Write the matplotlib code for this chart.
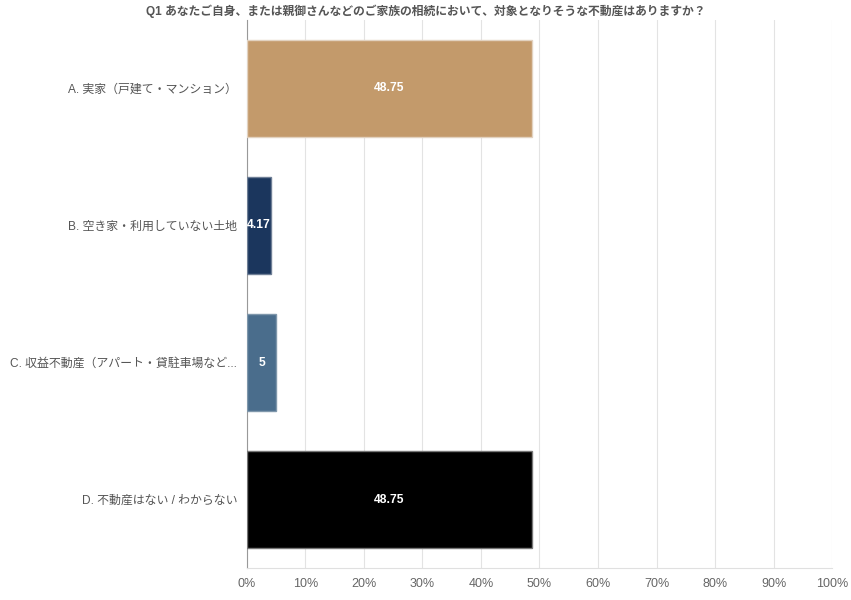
import matplotlib
matplotlib.use('Agg')
import matplotlib.pyplot as plt
import numpy as np

plt.rcParams['font.family'] = ['Liberation Sans', 'Noto Sans CJK JP', 'DejaVu Sans']

title = 'Q1 あなたご自身、または親御さんなどのご家族の相続において、対象となりそうな不動産はありますか？'
categories = ['A. 実家（戸建て・マンション）',
              'B. 空き家・利用していない土地',
              'C. 収益不動産（アパート・貸駐車場など...',
              'D. 不動産はない / わからない']
values = [48.75, 4.17, 5, 48.75]
labels = ['48.75', '4.17', '5', '48.75']
colors = ['#c39a6b', '#1b365d', '#4a6d8c', '#000000']
edges = ['#e2d2c0', '#6f7f96', '#7f97ab', '#777777']
xticks = np.arange(0, 101, 10)

fig = plt.figure(figsize=(8.51, 6.0), dpi=100)
ax = fig.add_axes([0.2902, 0.0533, 0.6875, 0.9134])

y = np.arange(len(categories))
ax.barh(y, values, height=0.715, color=colors, edgecolor=edges, linewidth=1, zorder=3)

for yi, v, lab in zip(y, values, labels):
    ax.text(v / 2, yi, lab, ha='center', va='center', color='white',
            fontsize=8.7, fontweight='bold', zorder=4)

ax.set_ylim(len(categories) - 0.5, -0.5)
ax.set_xlim(0, 100)
ax.set_yticks(y)
ax.set_yticklabels(categories, fontsize=8.6, color='#555555')
ax.set_xticks(xticks)
ax.set_xticklabels(['%d%%' % t for t in xticks], fontsize=9, color='#666666')

ax.grid(True, axis='x', color='#e3e3e3', linewidth=0.8, zorder=0)
for s in ['top', 'right']:
    ax.spines[s].set_visible(False)
ax.spines['left'].set_color('#999999')
ax.spines['bottom'].set_color('#e0e0e0')
ax.tick_params(axis='y', length=0, pad=7)
ax.tick_params(axis='x', length=0, pad=7)

fig.text(0.5, 0.982, title, ha='center', va='center', fontsize=8.5,
         fontweight='bold', color='#555555')

fig.savefig('out.png', dpi=100)
